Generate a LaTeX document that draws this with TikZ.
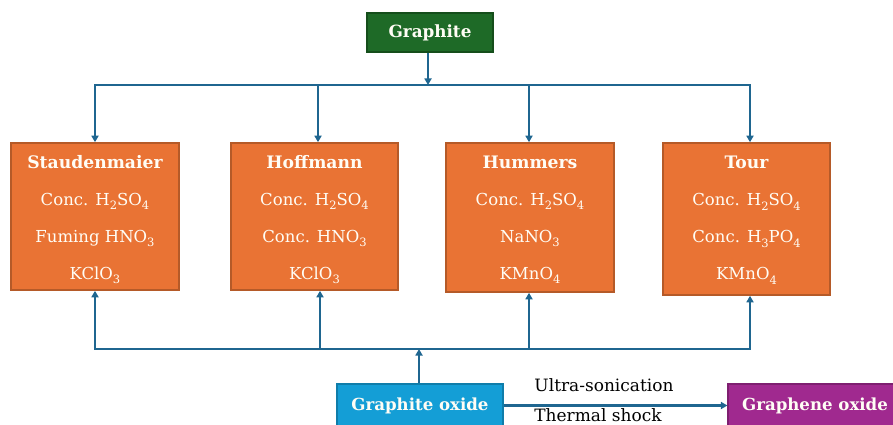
\documentclass[tikz,border=0pt]{standalone}
\usepackage{fontspec}
\setmainfont{DejaVu Serif}
\usetikzlibrary{arrows.meta}
\definecolor{linec}{HTML}{1F6690}
\definecolor{orfill}{HTML}{E97334}
\definecolor{ordraw}{HTML}{B55A28}
\definecolor{grfill}{HTML}{1E6A27}
\definecolor{grdraw}{HTML}{154E1B}
\definecolor{blfill}{HTML}{149ED6}
\definecolor{bldraw}{HTML}{0F7DAA}
\definecolor{pufill}{HTML}{A0298F}
\definecolor{pudraw}{HTML}{7E1F70}
\definecolor{txtw}{HTML}{FFFDF5}
\newcommand\chs[1]{\raisebox{-0.3em}{\fontsize{11.5}{11.5}\selectfont #1}}
\newcommand\mtitle[1]{{\fontsize{17.2}{37}\selectfont\bfseries #1}}
\begin{document}
\begin{tikzpicture}[x=1pt,y=-1pt,
  conn/.style={draw=linec, line width=2.4pt, line join=miter},
  tip/.style={-{Triangle[length=6.5pt,width=7pt]}},
  method/.style={draw=ordraw, fill=orfill, line width=1.6pt, inner sep=0pt},
  mtext/.style={text=txtw, align=center, inner sep=0pt, text height=123pt, text depth=4pt,
     font=\fontsize{16.5}{37}\selectfont},
  gbox/.style={draw=grdraw, fill=grfill, line width=1.2pt, text=txtw,
     minimum width=126pt, minimum height=39pt, inner sep=0pt, font=\fontsize{16.8}{19}\selectfont\bfseries},
  obox/.style={line width=1.2pt, text=txtw, minimum height=43pt, inner sep=0pt,
     font=\fontsize{16.6}{19}\selectfont\bfseries},
  lbl/.style={text=black, inner sep=0pt, font=\fontsize{17}{19}\selectfont}
]
\useasboundingbox (0,0) rectangle (893,425);
\clip (0,0) rectangle (893,425);

\node[gbox] (graphite) at (430,32.5) {Graphite};

\node[method, minimum width=168pt, minimum height=147pt] (b1) at (95,216.5) {};
\node[method, minimum width=167pt, minimum height=147pt] (b2) at (314.5,216.5) {};
\node[method, minimum width=168pt, minimum height=149pt] (b3) at (530,217.5) {};
\node[method, minimum width=167pt, minimum height=152pt] (b4) at (746.5,219) {};

\node[mtext] (b1t) at (95,219.5)
  {\mtitle{Staudenmaier}\\Conc. H\chs{2}SO\chs{4}\\Fuming HNO\chs{3}\\KClO\chs{3}};
\node[mtext] (b2t) at (314.5,219.5)
  {\mtitle{Hoffmann}\\Conc. H\chs{2}SO\chs{4}\\Conc. HNO\chs{3}\\KClO\chs{3}};
\node[mtext] (b3t) at (530,219.5)
  {\mtitle{Hummers}\\Conc. H\chs{2}SO\chs{4}\\NaNO\chs{3}\\KMnO\chs{4}};
\node[mtext] (b4t) at (746.5,220)
  {\mtitle{Tour}\\Conc. H\chs{2}SO\chs{4}\\Conc. H\chs{3}PO\chs{4}\\KMnO\chs{4}};

\node[obox, draw=bldraw, fill=blfill, minimum width=166pt] (go) at (420,405.5) {Graphite oxide};
\node[obox, draw=pudraw, fill=pufill, minimum width=174pt] (gn) at (815,405.5) {Graphene oxide};

% top distribution
\coordinate (tj) at (428,85);
\coordinate (tl) at (95,85);
\coordinate (tr) at (750,85);
\coordinate (t2) at (318,85);
\coordinate (t3) at (529,85);
\draw[conn,tip] (graphite.south -| tj) -- (tj);
\draw[conn,tip] (tj) -- (tl) -- (tl |- b1.north);
\draw[conn,tip] (tj) -- (tr) -- (tr |- b4.north);
\draw[conn,tip] (t2) -- (t2 |- b2.north);
\draw[conn,tip] (t3) -- (t3 |- b3.north);

% bottom collection
\coordinate (bj) at (419,349);
\coordinate (bl) at (95,349);
\coordinate (br) at (750,349);
\coordinate (bb2) at (320,349);
\coordinate (bb3) at (529,349);
\draw[conn,tip] (go.north -| bj) -- (bj);
\draw[conn,tip] (bj) -- (bl) -- (bl |- b1.south);
\draw[conn,tip] (bj) -- (br) -- (br |- b4.south);
\draw[conn,tip] (bb2) -- (bb2 |- b2.south);
\draw[conn,tip] (bb3) -- (bb3 |- b3.south);

% exfoliation
\draw[conn,tip] (go.east) -- (gn.west);
\node[lbl, anchor=base] (us) at (604,391) {Ultra-sonication};
\node[lbl, anchor=base] (ts) at (598,421) {Thermal shock};
\end{tikzpicture}
\end{document}
